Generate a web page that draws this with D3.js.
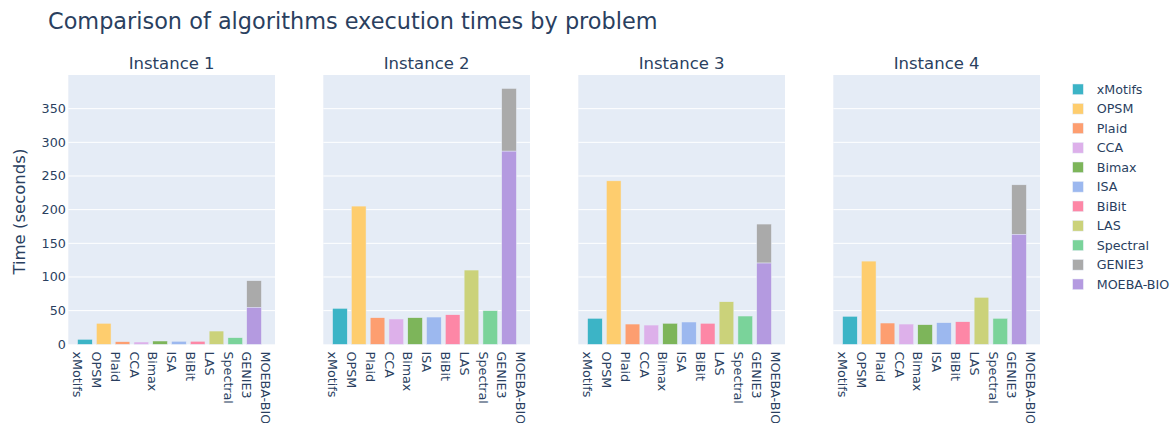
<!DOCTYPE html>
<html>
<head>
<meta charset="utf-8">
<script src="https://cdn.jsdelivr.net/npm/d3@7"></script>
<style>
  html, body { margin: 0; padding: 0; background: #fff; }
  svg { display: block; font-family: "DejaVu Sans", Verdana, sans-serif; }
</style>
</head>
<body>
<svg id="chart" width="1174" height="423"></svg>
<script>
// Algorithms shown on every x axis (and in the legend)
const algorithms = ["xMotifs", "OPSM", "Plaid", "CCA", "Bimax", "ISA", "BiBit", "LAS", "Spectral", "GENIE3", "MOEBA-BIO"];
const instances = ["Instance 1", "Instance 2", "Instance 3", "Instance 4"];

// Execution time (seconds) per algorithm, one array per instance
const instance1 = [7.4, 31.2, 3.9, 3.4, 4.9, 4.5, 4.5, 19.7, 9.8, 39.5, 54.9];
const instance2 = [53.4, 205.3, 39.5, 37.6, 39.5, 40.5, 43.9, 110.3, 49.9, 93.1, 286.9];
const instance3 = [38.6, 242.8, 30.1, 28.6, 31.2, 33.1, 31.2, 63.2, 42.0, 57.9, 120.7];
const instance4 = [41.6, 123.6, 31.6, 30.1, 29.1, 32.1, 33.5, 69.8, 38.6, 73.6, 163.3];
const times = [instance1, instance2, instance3, instance4];

// Column each bar sits in; GENIE3 is stacked on top of MOEBA-BIO
const barColumn = ["xMotifs", "OPSM", "Plaid", "CCA", "Bimax", "ISA", "BiBit", "LAS", "Spectral", "GENIE3", "GENIE3"];

const yTicks = [0, 50, 100, 150, 200, 250, 300, 350];

const colors = {
  "xMotifs": "#3cb4c6", "OPSM": "#fecd6e", "Plaid": "#fd9e70", "CCA": "#ddb0ea",
  "Bimax": "#7db55a", "ISA": "#9cb8ef", "BiBit": "#fd87a6", "LAS": "#cbd27a",
  "Spectral": "#7ad39a", "GENIE3": "#aaaaaa", "MOEBA-BIO": "#b49ae0"
};

const svg = d3.select("#chart");
const textColor = "#2a3f5f";
const panelTop = 75, panelBottom = 344.3, panelWidth = 206.7;
const panelLefts = [68.3, 323.3, 578.3, 833.3];

const y = d3.scaleLinear().domain([0, 400]).range([panelBottom, panelTop]);

svg.append("text")
  .attr("x", 48).attr("y", 29)
  .attr("font-size", 22.4).attr("fill", textColor)
  .text("Comparison of algorithms execution times by problem");

svg.append("text")
  .attr("transform", `translate(19,${(panelTop + panelBottom) / 2 + 2}) rotate(-90)`)
  .attr("text-anchor", "middle").attr("dy", "0.35em")
  .attr("font-size", 16.5).attr("fill", textColor)
  .text("Time (seconds)");

instances.forEach((name, p) => {
  const left = panelLefts[p];
  const x = d3.scaleBand().domain(algorithms).range([left, left + panelWidth]).padding(0);
  const step = x.step();
  const g = svg.append("g");

  g.append("rect")
    .attr("x", left).attr("y", panelTop)
    .attr("width", panelWidth).attr("height", panelBottom - panelTop)
    .attr("fill", "#E5ECF6");

  g.selectAll("line.grid").data(yTicks.filter(t => t > 0)).join("line")
    .attr("class", "grid")
    .attr("x1", left).attr("x2", left + panelWidth)
    .attr("y1", d => y(d)).attr("y2", d => y(d))
    .attr("stroke", "#fff").attr("stroke-width", 1);

  g.append("text")
    .attr("x", left + panelWidth / 2).attr("y", 69.3)
    .attr("text-anchor", "middle").attr("font-size", 16.5).attr("fill", textColor)
    .text(name);

  // Bars, with GENIE3 stacked above MOEBA-BIO in the shared column
  const vals = times[p];
  const bars = algorithms.map((a, i) => {
    const base = a === "GENIE3" ? vals[algorithms.indexOf("MOEBA-BIO")] : 0;
    return { name: a, col: barColumn[i], y0: base, y1: base + vals[i] };
  });
  const barW = step * 0.78;
  g.selectAll("rect.bar").data(bars).join("rect")
    .attr("class", "bar")
    .attr("x", d => x(d.col) + step * 0.885 - barW / 2)
    .attr("width", barW)
    .attr("y", d => y(d.y1))
    .attr("height", d => y(d.y0) - y(d.y1))
    .attr("fill", d => colors[d.name])
    .attr("stroke", "#E5ECF6").attr("stroke-width", 0.5);

  // x tick labels, rotated
  g.selectAll("text.xl").data(algorithms).join("text")
    .attr("class", "xl")
    .attr("transform", d => `translate(${x(d) + step / 2},351.5) rotate(90)`)
    .attr("dy", "0.35em")
    .attr("font-size", 12.7).attr("fill", textColor)
    .text(d => d);

  if (p === 0) {
    g.selectAll("text.yl").data(yTicks).join("text")
      .attr("class", "yl")
      .attr("x", left - 2.5).attr("y", d => y(d)).attr("dy", "0.35em")
      .attr("text-anchor", "end").attr("font-size", 12.7).attr("fill", textColor)
      .text(d => d);
  }
});

// Legend
const legend = svg.append("g");
algorithms.forEach((a, i) => {
  const cy = 89.3 + i * 19.5;
  legend.append("rect")
    .attr("x", 1072.7).attr("y", cy - 5.3).attr("width", 10.6).attr("height", 10.6)
    .attr("fill", colors[a]).attr("stroke", "#E5ECF6").attr("stroke-width", 0.5);
  legend.append("text")
    .attr("x", 1096.7).attr("y", cy).attr("dy", "0.35em")
    .attr("font-size", 12.7).attr("fill", textColor)
    .text(a);
});
</script>
</body>
</html>
